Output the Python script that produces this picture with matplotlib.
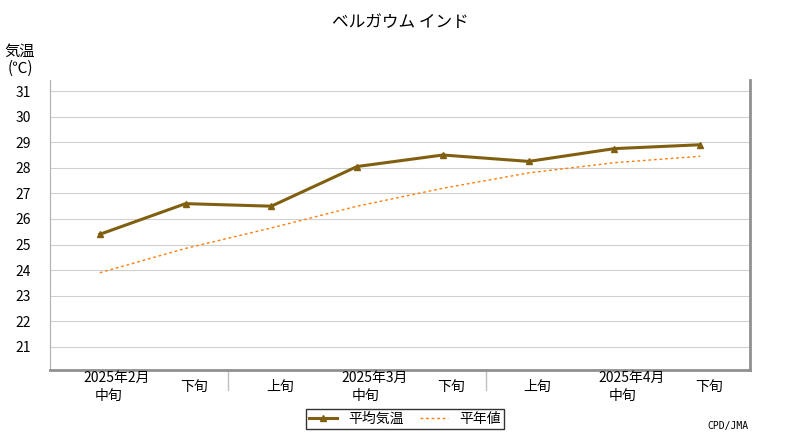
import matplotlib.pyplot as plt
import matplotlib.lines as mlines

plt.rcParams['font.family'] = 'Noto Sans CJK JP'

dekads = ['中旬', '下旬', '上旬', '中旬', '下旬', '上旬', '中旬', '下旬']
months = ['2025年2月', '2025年3月', '2025年4月']
month_pos = [0, 3, 6]
mean_temp = [25.4, 26.6, 26.5, 28.05, 28.5, 28.25, 28.75, 28.9]
normal_temp = [23.9, 24.85, 25.65, 26.5, 27.2, 27.8, 28.2, 28.45]
yticks = list(range(21, 32))

fig = plt.figure(figsize=(8, 4.4), dpi=100)
ax = fig.add_axes([50 / 800, 1 - 370 / 440, 700 / 800, 290 / 440])
x = list(range(len(dekads)))

ax.plot(x, normal_temp, color='#ff7f0e', lw=1, ls=(0, (2, 2)))
ax.plot(x, mean_temp, color='#806010', lw=2.2, marker='^', ms=5)

ax.set_xlim(-0.58, 7.58)
ax.set_ylim(20.1, 31.43)
ax.set_yticks(yticks)
ax.set_yticklabels([str(v) for v in yticks], fontsize=10)
ax.grid(axis='y', color='#d0d0d0', lw=0.8)
ax.set_axisbelow(True)
ax.tick_params(axis='y', length=0, pad=14)
ax.set_xticks([])
for s in ['top']:
    ax.spines[s].set_visible(False)
ax.spines['left'].set_color('#b0b0b0')
ax.spines['right'].set_color('#909090')
ax.spines['right'].set_linewidth(2)
ax.spines['bottom'].set_color('#909090')
ax.spines['bottom'].set_linewidth(2)

for i, d in enumerate(dekads):
    yy = 20.1 - 0.75 if i in month_pos else 20.1 - 0.4
    ax.text(i + (0.1 if i in month_pos else 0.1), yy, d, ha='center', va='top', fontsize=10, clip_on=False)
for p, m in zip(month_pos, months):
    ax.text(p + 0.2, 20.1 - 0.05, m, ha='center', va='top', fontsize=10, clip_on=False)
for sep in [1.5, 4.5]:
    ax.plot([sep, sep], [20.1, 19.3], color='#c0c0c0', lw=1, clip_on=False)

fig.text(0.5, 1 - 22 / 440, 'ベルガウム インド', ha='center', va='center', fontsize=12)
fig.text(20 / 800, 1 - 60 / 440, '気温\n(℃)', ha='center', va='center', fontsize=11, linespacing=1.0)
fig.text(748 / 800, 1 - 426 / 440, 'CPD/JMA', ha='right', va='center', fontsize=7, family='DejaVu Sans Mono')

h1 = mlines.Line2D([], [], color='#806010', lw=2.2, marker='^', ms=5)
h2 = mlines.Line2D([], [], color='#ff7f0e', lw=1, ls=(0, (2, 2)))
fig.legend([h1, h2], ['平均気温', '平年値'], loc='center', bbox_to_anchor=(405 / 800, 1 - 419 / 440),
           ncol=2, fontsize=10, frameon=True, fancybox=False, edgecolor='black',
           borderpad=0.2, handlelength=2, columnspacing=1.2)

fig.savefig('out.png')
